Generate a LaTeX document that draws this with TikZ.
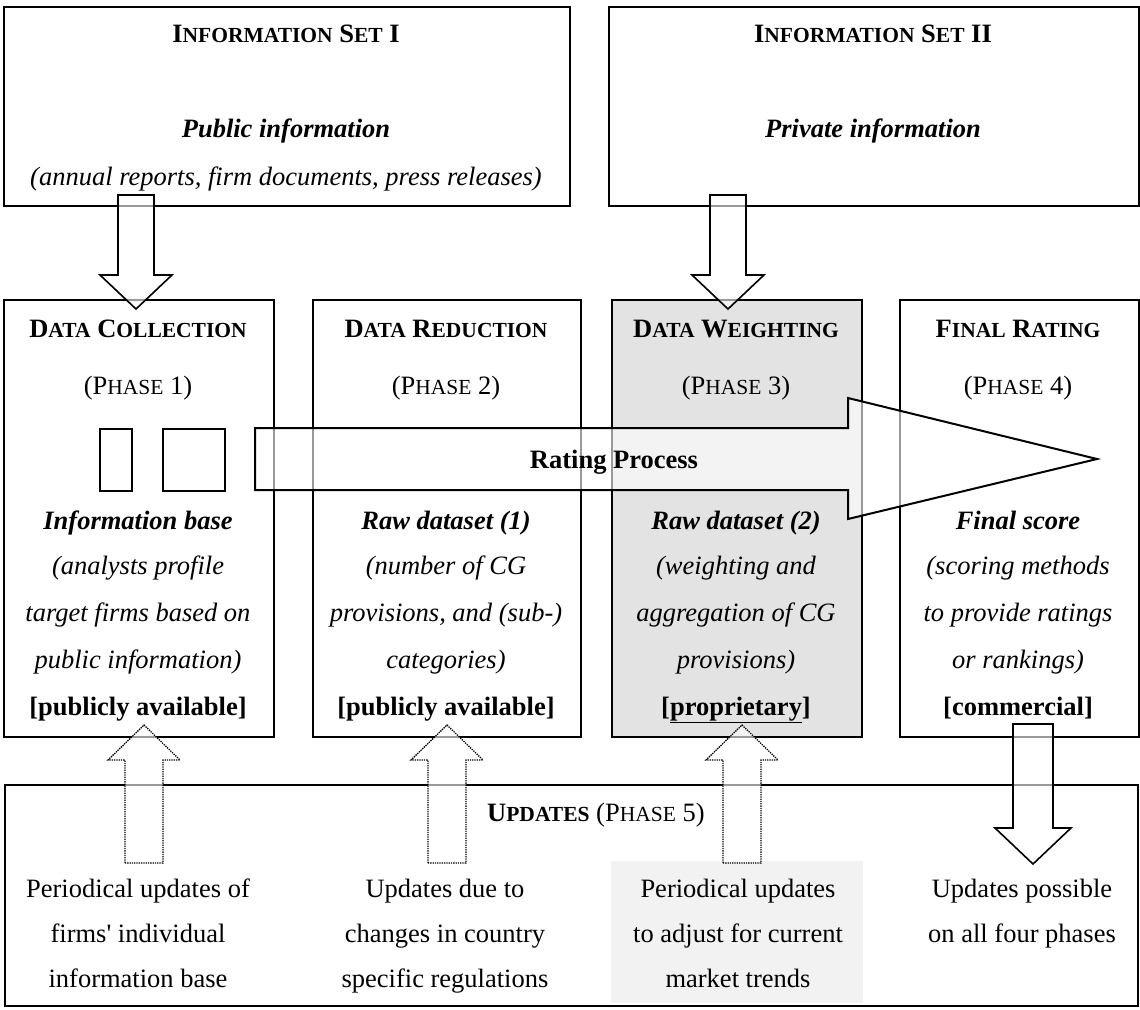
\documentclass[tikz,border=0pt]{standalone}
\usepackage{fontspec}
\setmainfont{Liberation Serif}
\newfontfamily\rawserif{Liberation Serif}
\newcommand\fs{\fontsize{26.5}{26.5}\selectfont}
\newcommand\smc[1]{{\fontsize{21.5}{21.5}\selectfont #1}}
\begin{document}
\begin{tikzpicture}[x=1pt,y=-1pt,
  box/.style={draw=black, line width=2pt, fill=white, inner sep=0pt, anchor=north west},
  blk/.style={draw=black, line width=1.6pt, fill=white, fill opacity=0.6, line join=miter},
  upblk/.style={draw=black, line width=1.3pt, densely dotted, fill=white, fill opacity=0.6, line join=miter},
  t/.style={anchor=base, inner sep=0pt, font=\fs},
  tb/.style={t, font=\fs\bfseries},
  ti/.style={t, font=\fs\itshape},
  tbi/.style={t, font=\fs\bfseries\itshape},
  small/.style={draw=black, line width=1.5pt, inner sep=0pt, anchor=north west}
]
\useasboundingbox (0,0) rectangle (1140,1009);
% information sets
\node[box, minimum width=566, minimum height=199] (info1) at (3,6) {};
\node[box, minimum width=530, minimum height=199] (info2) at (608,6) {};
% phase boxes
\node[box, minimum width=270, minimum height=437] (b1) at (3,299) {};
\node[box, minimum width=268, minimum height=437] (b2) at (312,299) {};
\node[box, minimum width=250, minimum height=437, fill={rgb,255:red,227;green,227;blue,227}] (b3) at (611,299) {};
\node[box, minimum width=239, minimum height=437] (b4) at (899,299) {};
% updates box
\node[anchor=north west, inner sep=0pt, minimum width=252, minimum height=142, fill={rgb,255:red,242;green,242;blue,242}] (gbox) at (611,861) {};
\node[box, fill=none, minimum width=1133, minimum height=221] (upd) at (4,784) {};
% small rectangles
\node[small, minimum width=32, minimum height=62] (r1) at (99,428) {};
\node[small, minimum width=62, minimum height=62] (r2) at (162,428) {};

% texts info sets
\node[tb] (i1h) at (286,42) {I\smc{NFORMATION} S\smc{ET} I};
\node[tbi] (i1a) at (286,137) {Public information};
\node[ti] (i1b) at (286,185) {(annual reports, firm documents, press releases)};
\node[tb] (i2h) at (873,42) {I\smc{NFORMATION} S\smc{ET} II};
\node[tbi] (i2a) at (873,137) {Private information};

% phase texts
\node[tb] (h1) at (138,337) {D\smc{ATA} C\smc{OLLECTION}};
\node[t] (p1) at (138,394) {(P\smc{HASE} 1)};
\node[tbi] (a1) at (138,529) {Information base};
\node[ti] (c1) at (138,574) {(analysts profile};
\node[ti] (d1) at (138,621) {target firms based on};
\node[ti] (e1) at (138,668) {public information)};
\node[tb] (f1) at (138,715) {[publicly available]};

\node[tb] (h2) at (446,337) {D\smc{ATA} R\smc{EDUCTION}};
\node[t] (p2) at (446,394) {(P\smc{HASE} 2)};
\node[tbi] (a2) at (446,529) {Raw dataset (1)};
\node[ti] (c2) at (446,574) {(number of CG};
\node[ti] (d2) at (446,621) {provisions, and (sub-)};
\node[ti] (e2) at (446,668) {categories)};
\node[tb] (f2) at (446,715) {[publicly available]};

\node[tb] (h3) at (736,337) {D\smc{ATA} W\smc{EIGHTING}};
\node[t] (p3) at (736,394) {(P\smc{HASE} 3)};
\node[tbi] (a3) at (736,529) {Raw dataset (2)};
\node[ti] (c3) at (736,574) {(weighting and};
\node[ti] (d3) at (736,621) {aggregation of CG};
\node[ti] (e3) at (736,668) {provisions)};
\node[tb] (f3) at (736,715) {[\underline{proprietary}]};

\node[tb] (h4) at (1018,337) {F\smc{INAL} R\smc{ATING}};
\node[t] (p4) at (1018,394) {(P\smc{HASE} 4)};
\node[tbi] (a4) at (1018,529) {Final score};
\node[ti] (c4) at (1018,574) {(scoring methods};
\node[ti] (d4) at (1018,621) {to provide ratings};
\node[ti] (e4) at (1018,668) {or rankings)};
\node[tb] (f4) at (1018,715) {[commercial]};

% updates texts
\node[t, anchor=base west] (uh) at (487,821) {\textbf{U\smc{PDATES}} (P\smc{HASE} 5)};
\node[t] (u1a) at (138,897) {Periodical updates of};
\node[t] (u1b) at (138,942) {firms{\rawserif '} individual};
\node[t] (u1c) at (138,987) {information base};
\node[t] (u2a) at (445,897) {Updates due to};
\node[t] (u2b) at (445,942) {changes in country};
\node[t] (u2c) at (445,987) {specific regulations};
\node[t] (u3a) at (738,897) {Periodical updates};
\node[t] (u3b) at (738,942) {to adjust for current};
\node[t] (u3c) at (738,987) {market trends};
\node[t] (u4a) at (1022,897) {Updates possible};
\node[t] (u4b) at (1022,942) {on all four phases};

% block arrows
\draw[blk] (118,195) -- (154,195) -- (154,275) -- (172,275) -- (136,309) -- (100,275) -- (118,275) -- cycle;
\draw[blk] (710,195) -- (746,195) -- (746,275) -- (764,275) -- (728,309) -- (692,275) -- (710,275) -- cycle;
\draw[blk] (1013,724) -- (1053,724) -- (1053,828) -- (1071,828) -- (1033,864) -- (995,828) -- (1013,828) -- cycle;
\draw[upblk] (125,863) -- (125,760) -- (108,760) -- (144,725) -- (180,760) -- (163,760) -- (163,863) -- cycle;
\draw[upblk] (428,863) -- (428,760) -- (411,760) -- (447,725) -- (483,760) -- (466,760) -- (466,863) -- cycle;
\draw[upblk] (723,863) -- (723,760) -- (706,760) -- (742,725) -- (778,760) -- (761,760) -- (761,863) -- cycle;
% rating process arrow
\draw[blk, line width=2pt] (255,428) -- (848,428) -- (848,398) -- (1097,459) -- (848,519) -- (848,490) -- (255,490) -- cycle;
\node[tb] (rp) at (614,468) {Rating Process};
\end{tikzpicture}
\end{document}
